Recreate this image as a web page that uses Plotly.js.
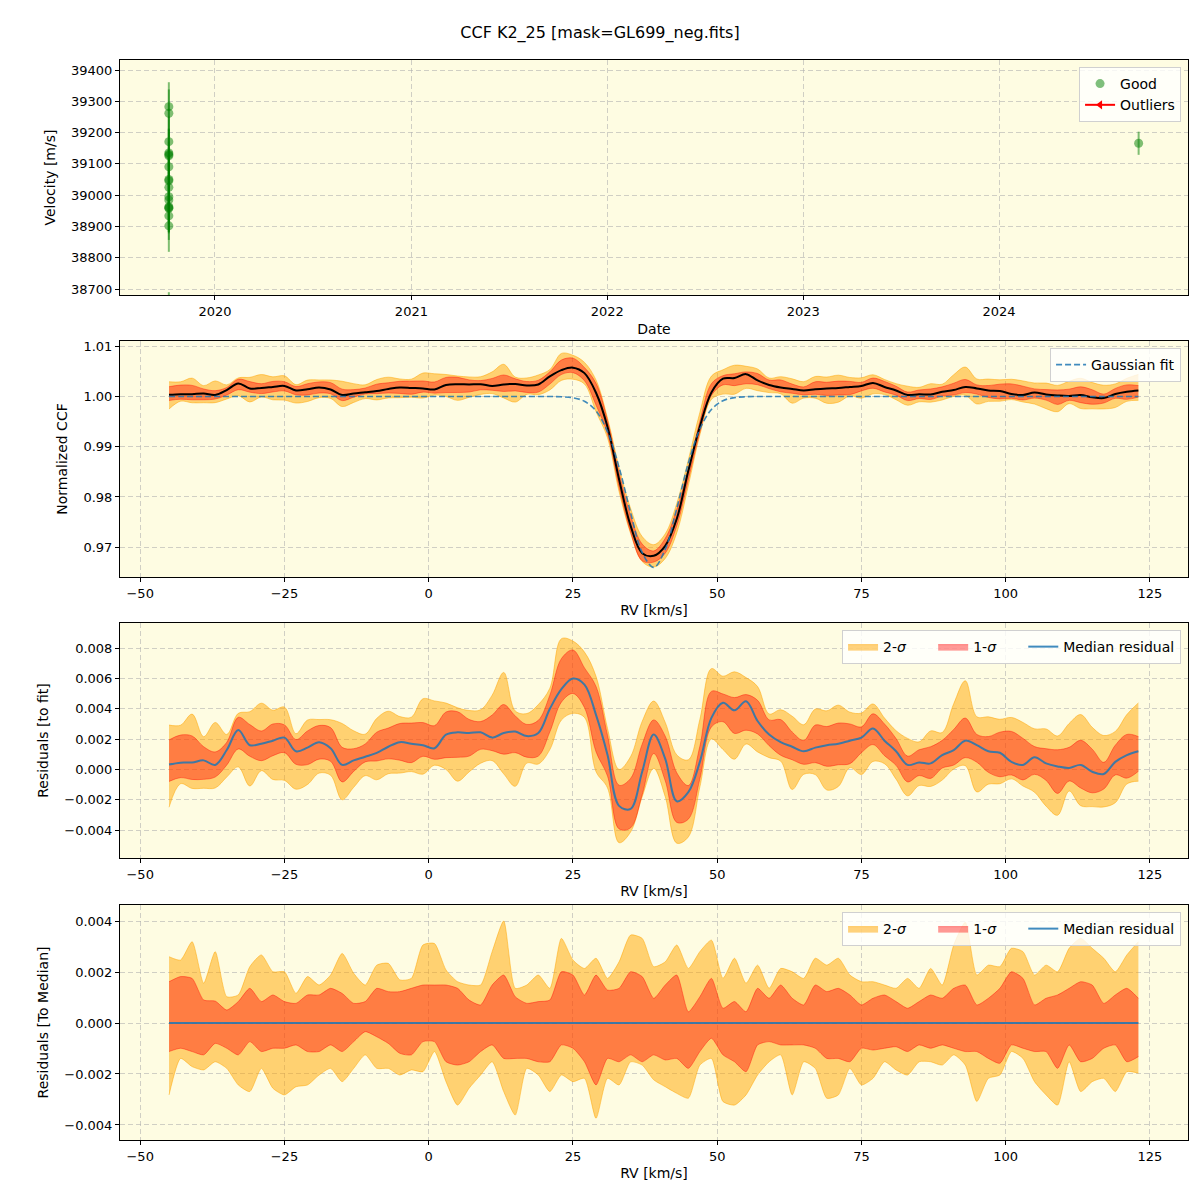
<!DOCTYPE html>
<html>
<head>
<meta charset="utf-8">
<script src="https://cdn.plot.ly/plotly-3.0.1.min.js"></script>
<style>
  body { margin: 0; background: #fff; }
  #chart { width: 1200px; height: 1200px; }
</style>
</head>
<body>
<div id="chart"></div>
<script>
// --- velocity time series (top panel) ---
var obsDates = ['2019-10-07', '2019-10-07', '2019-10-07', '2019-10-07', '2019-10-07', '2019-10-07',
                '2019-10-07', '2019-10-07', '2019-10-07', '2019-10-07', '2019-10-07', '2019-10-07',
                '2019-10-07', '2019-10-07', '2019-10-07', '2019-10-07', '2019-10-07', '2019-10-07',
                '2024-09-17'];
var obsVel = [39283, 39262, 39171, 39135, 39130, 39126, 39091, 39050, 39046, 39025, 38995, 38985,
              38963, 38960, 38958, 38934, 38902, 38600, 39166];
var obsErr = [78, 76, 80, 78, 80, 78, 80, 78, 80, 78, 80, 78, 80, 78, 80, 77, 83, 90, 37];

// --- CCF profiles, RV grid in km/s ---
var rv = [-45, -43, -41, -39, -37, -35, -33, -31, -29, -27, -25, -23, -21, -19, -17, -15, -13, -11,
          -9, -7, -5, -3, -1, 1, 3, 5, 7, 9, 11, 13, 15, 17, 19, 21, 23, 25, 27, 29, 31, 33, 35, 37,
          39, 41, 43, 45, 47, 49, 51, 53, 55, 57, 59, 61, 63, 65, 67, 69, 71, 73, 75, 77, 79, 81,
          83, 85, 87, 89, 91, 93, 95, 97, 99, 101, 103, 105, 107, 109, 111, 113, 115, 117, 119, 121, 123];

var gaussFit = [1, 1, 1, 1, 1, 1, 1, 1, 1, 1, 1, 1, 1, 1, 1, 1, 1, 1,
                1, 1, 1, 1, 1, 1, 1, 1, 1, 1, 1, 1, 1, 1, 1, 1,
                0.99994, 0.99974, 0.99905, 0.99714, 0.99297, 0.98589, 0.97685, 0.96897, 0.96600,
                0.96958, 0.97776, 0.98672, 0.99352, 0.99741, 0.99916, 0.99978, 0.99995,
                1, 1, 1, 1, 1, 1, 1, 1, 1, 1, 1, 1, 1, 1, 1, 1, 1,
                1, 1, 1, 1, 1, 1, 1, 1, 1, 1, 1, 1, 1, 1, 1, 1, 1];

// median residual to the gaussian fit
var resMedian = [0.00033, 0.00045, 0.00046, 0.0006, 0.0003, 0.00128, 0.0026, 0.0016, 0.0017, 0.0019,
                 0.0021, 0.0012, 0.00144, 0.0018, 0.0014, 0.0003, 0.0006, 0.00084, 0.0011, 0.0015,
                 0.0018, 0.0017, 0.0016, 0.0014, 0.0023, 0.00245, 0.0024, 0.00245, 0.0021, 0.0024,
                 0.0025, 0.0022, 0.0024, 0.004, 0.0053, 0.006, 0.0056, 0.0036, 0.00095, -0.0024,
                 -0.0026, -0.00015, 0.0023, 0.0007, -0.0021, -0.0015, 0.0005, 0.0034, 0.0044, 0.0039,
                 0.0045, 0.0032, 0.0023, 0.0018, 0.0015, 0.0012, 0.00144, 0.0016, 0.0017, 0.0019,
                 0.0021, 0.0027, 0.0019, 0.0012, 0.0003, 0.00046, 0.0004, 0.00095, 0.00128, 0.0019,
                 0.0016, 0.0012, 0.0011, 0.0005, 0.0003, 0.0008, 0.0004, 0.0002, 0.0001, 0.0003,
                 -0.00015, -0.0003, 0.0005, 0.00095, 0.0012];

// percentile offsets around the median (same for every panel)
var hi2Off = [0.00260, 0.00247, 0.00319, 0.00156, 0.00280, 0.00103, 0.00110, 0.00221, 0.00267, 0.00201,
              0.00201, 0.00116, 0.00182, 0.00149, 0.00188, 0.00273, 0.00195, 0.00149, 0.00227, 0.00234,
              0.00169, 0.00175, 0.00306, 0.00312, 0.00208, 0.00162, 0.00149, 0.00149, 0.00280, 0.00400,
              0.00136, 0.00149, 0.00188, 0.00136, 0.00332, 0.00247, 0.00214, 0.00254, 0.00175, 0.00240,
              0.00345, 0.00332, 0.00221, 0.00240, 0.00306, 0.00214, 0.00280, 0.00325, 0.00175, 0.00254,
              0.00156, 0.00227, 0.00136, 0.00214, 0.00201, 0.00175, 0.00254, 0.00227, 0.00254, 0.00188,
              0.00162, 0.00162, 0.00149, 0.00136, 0.00175, 0.00136, 0.00214, 0.00149, 0.00306, 0.00395,
              0.00188, 0.00227, 0.00221, 0.00293, 0.00280, 0.00188, 0.00227, 0.00201, 0.00293, 0.00332,
              0.00293, 0.00254, 0.00201, 0.00267, 0.00319];
var hi1Off = [0.00162, 0.00182, 0.00175, 0.00090, 0.00086, 0.00051, 0.00084, 0.00136, 0.00084, 0.00110,
              0.00084, 0.00077, 0.00110, 0.00110, 0.00136, 0.00116, 0.00077, 0.00084, 0.00136, 0.00123,
              0.00123, 0.00136, 0.00149, 0.00149, 0.00149, 0.00136, 0.00090, 0.00071, 0.00149, 0.00188,
              0.00103, 0.00077, 0.00084, 0.00090, 0.00201, 0.00188, 0.00110, 0.00188, 0.00129, 0.00136,
              0.00201, 0.00182, 0.00097, 0.00149, 0.00188, 0.00044, 0.00103, 0.00175, 0.00058, 0.00084,
              0.00044, 0.00136, 0.00097, 0.00149, 0.00097, 0.00071, 0.00149, 0.00123, 0.00136, 0.00110,
              0.00071, 0.00097, 0.00110, 0.00084, 0.00058, 0.00084, 0.00110, 0.00097, 0.00136, 0.00149,
              0.00071, 0.00097, 0.00136, 0.00201, 0.00175, 0.00071, 0.00097, 0.00110, 0.00136, 0.00162,
              0.00149, 0.00077, 0.00110, 0.00136, 0.00097];
var lo1Off = [-0.00112, -0.00099, -0.00112, -0.00125, -0.00080, -0.00099, -0.00125, -0.00073, -0.00112, -0.00099,
              -0.00099, -0.00086, -0.00112, -0.00112, -0.00086, -0.00112, -0.00073, -0.00034, -0.00054, -0.00080,
              -0.00119, -0.00125, -0.00073, -0.00073, -0.00152, -0.00165, -0.00152, -0.00112, -0.00086, -0.00139,
              -0.00139, -0.00139, -0.00152, -0.00152, -0.00086, -0.00099, -0.00152, -0.00243, -0.00139, -0.00152,
              -0.00125, -0.00152, -0.00125, -0.00145, -0.00139, -0.00178, -0.00112, -0.00060, -0.00125, -0.00152,
              -0.00191, -0.00086, -0.00073, -0.00086, -0.00086, -0.00086, -0.00099, -0.00139, -0.00139, -0.00152,
              -0.00099, -0.00106, -0.00099, -0.00093, -0.00112, -0.00086, -0.00099, -0.00086, -0.00099, -0.00112,
              -0.00112, -0.00139, -0.00158, -0.00086, -0.00099, -0.00112, -0.00112, -0.00178, -0.00086, -0.00152,
              -0.00139, -0.00099, -0.00086, -0.00152, -0.00132];
var lo2Off = [-0.00282, -0.00139, -0.00171, -0.00184, -0.00152, -0.00178, -0.00243, -0.00269, -0.00178, -0.00256,
              -0.00282, -0.00250, -0.00243, -0.00204, -0.00178, -0.00230, -0.00178, -0.00125, -0.00178, -0.00178,
              -0.00204, -0.00184, -0.00191, -0.00112, -0.00230, -0.00322, -0.00256, -0.00204, -0.00152, -0.00269,
              -0.00361, -0.00178, -0.00204, -0.00269, -0.00204, -0.00230, -0.00217, -0.00374, -0.00217, -0.00243,
              -0.00152, -0.00165, -0.00223, -0.00250, -0.00276, -0.00295, -0.00165, -0.00139, -0.00308, -0.00322,
              -0.00282, -0.00204, -0.00152, -0.00125, -0.00282, -0.00152, -0.00178, -0.00295, -0.00282, -0.00178,
              -0.00243, -0.00217, -0.00152, -0.00184, -0.00204, -0.00152, -0.00152, -0.00165, -0.00125, -0.00165,
              -0.00308, -0.00217, -0.00204, -0.00112, -0.00139, -0.00230, -0.00282, -0.00322, -0.00152, -0.00269,
              -0.00230, -0.00217, -0.00269, -0.00191, -0.00197];

var zeroX = [-45, 123];
var zeroY = [0, 0];

// median CCF = fit + median residual
var ccfMedian = gaussFit.map(function (g, i) { return g + resMedian[i]; });

var c2 = 'rgba(255,165,0,0.5)';
var c1 = 'rgba(255,0,0,0.4)';
var blue = 'rgba(31,119,180,0.85)';
var pad = '\u00a0\u00a0\u00a0\u00a0\u00a0';

function addOff(base, off) {
    return off.map(function (o, i) { return (base ? base[i] : 0) + o; });
}

function bandTraces(xa, ya, base, leg, showLeg, smooth) {
    var ln = function (c) { return { color: c, width: 1, shape: 'spline', smoothing: smooth }; };
    return [
        { x: rv, y: addOff(base, lo2Off), xaxis: xa, yaxis: ya, mode: 'lines', line: ln(c2),
          showlegend: false, hoverinfo: 'skip' },
        { x: rv, y: addOff(base, hi2Off), xaxis: xa, yaxis: ya, mode: 'lines', line: ln(c2),
          fill: 'tonexty', fillcolor: c2, name: '2-<i>σ</i>' + pad, legend: leg, showlegend: showLeg },
        { x: rv, y: addOff(base, lo1Off), xaxis: xa, yaxis: ya, mode: 'lines', line: ln(c1),
          showlegend: false, hoverinfo: 'skip' },
        { x: rv, y: addOff(base, hi1Off), xaxis: xa, yaxis: ya, mode: 'lines', line: ln(c1),
          fill: 'tonexty', fillcolor: c1, name: '1-<i>σ</i>' + pad, legend: leg, showlegend: showLeg }
    ];
}

var data = [];

// top panel
data.push({
    x: obsDates, y: obsVel, xaxis: 'x', yaxis: 'y', type: 'scatter', mode: 'markers', name: 'Good',
    marker: { color: 'green', size: 9, opacity: 0.5 },
    error_y: { type: 'data', array: obsErr, visible: true, color: 'rgba(0,128,0,0.5)', thickness: 2, width: 0 },
    legend: 'legend'
});
data.push({
    x: [null], y: [null], xaxis: 'x', yaxis: 'y', type: 'scatter', mode: 'lines+markers', name: 'Outliers',
    line: { color: 'red', width: 2 }, marker: { color: 'red', symbol: 'triangle-left', size: 8 },
    legend: 'legend'
});

// CCF panel
data = data.concat(bandTraces('x2', 'y2', ccfMedian, 'legend2', false, 1));
data.push({ x: rv, y: ccfMedian, xaxis: 'x2', yaxis: 'y2', mode: 'lines', line: { color: 'black', width: 2, shape: 'spline' },
            showlegend: false, name: 'Median CCF' });
data.push({ x: rv, y: gaussFit, xaxis: 'x2', yaxis: 'y2', mode: 'lines', name: 'Gaussian fit',
            line: { color: blue, width: 1.6, dash: '6px,3px', shape: 'spline' }, legend: 'legend2' });

// residuals to fit
data = data.concat(bandTraces('x3', 'y3', resMedian, 'legend3', true, 1));
data.push({ x: rv, y: resMedian, xaxis: 'x3', yaxis: 'y3', mode: 'lines', name: 'Median residual',
            line: { color: blue, width: 2, shape: 'spline' }, legend: 'legend3' });

// residuals to median
data = data.concat(bandTraces('x4', 'y4', null, 'legend4', true, 0.6));
data.push({ x: zeroX, y: zeroY, xaxis: 'x4', yaxis: 'y4', mode: 'lines', name: 'Median residual',
            line: { color: blue, width: 2 }, legend: 'legend4' });

var font = { family: 'DejaVu Sans, sans-serif', size: 13, color: '#000' };
var gridColor = 'rgba(176,176,176,0.6)';

function axisBase(extra) {
    var a = {
        showline: true, mirror: true, linecolor: '#000', linewidth: 1,
        ticks: 'outside', ticklen: 4, tickcolor: '#000', tickwidth: 1,
        showgrid: true, gridcolor: gridColor, griddash: '5px,3px', gridwidth: 1,
        zeroline: false, tickfont: { size: 13 }
    };
    for (var k in extra) a[k] = extra[k];
    return a;
}

function axTitle(text, standoff) {
    return { text: text, standoff: standoff, font: { size: 14 } };
}

function legendBox(y, horiz) {
    return {
        x: 0.9935, xanchor: 'right', y: y, yanchor: 'top',
        orientation: horiz ? 'h' : 'v', traceorder: 'normal',
        bgcolor: 'rgba(255,255,255,0.8)', bordercolor: '#d0d0d0', borderwidth: 1,
        font: { size: 14 }, tracegroupgap: 2
    };
}

var rvRange = [-53.5, 131.6];

var layout = {
    width: 1200, height: 1200,
    font: font,
    paper_bgcolor: '#fff',
    plot_bgcolor: '#fefce2',
    margin: { l: 120, r: 12, t: 60, b: 60 },
    title: { text: 'CCF K2_25 [mask=GL699_neg.fits]', font: { size: 16 }, x: 0.5, xref: 'container',
             y: 1 - 32 / 1200, yref: 'container', yanchor: 'middle' },
    xaxis: axisBase({ type: 'date', range: ['2019-07-08', '2024-12-18'], dtick: 'M12', tick0: '2020-01-01',
                      tickformat: '%Y', anchor: 'y', title: axTitle('Date', 6) }),
    yaxis: axisBase({ domain: [0.7824, 1.0], range: [38681, 39432], dtick: 100, tickformat: 'd', anchor: 'x',
                      title: axTitle('Velocity [m/s]', 12) }),
    xaxis2: axisBase({ range: rvRange, dtick: 25, anchor: 'y2', title: axTitle('RV [km/s]', 5) }),
    yaxis2: axisBase({ domain: [0.5213, 0.7398], range: [0.96408, 1.01104], dtick: 0.01, tickformat: '.2f',
                       anchor: 'x2', title: axTitle('Normalized CCF', 12) }),
    xaxis3: axisBase({ range: rvRange, dtick: 25, anchor: 'y3', title: axTitle('RV [km/s]', 5) }),
    yaxis3: axisBase({ domain: [0.2611, 0.4787], range: [-0.00584, 0.00966], dtick: 0.002, tickformat: '.3f',
                       anchor: 'x3', title: axTitle('Residuals [to fit]', 12) }),
    xaxis4: axisBase({ range: rvRange, dtick: 25, anchor: 'y4', title: axTitle('RV [km/s]', 5) }),
    yaxis4: axisBase({ domain: [0, 0.2176], range: [-0.00459, 0.00463], dtick: 0.002, tickformat: '.3f',
                       anchor: 'x4', title: axTitle('Residuals [To Median]', 12) }),
    legend: legendBox(0.9935, false),
    legend2: legendBox(0.7333, false),
    legend3: legendBox(0.4722, true),
    legend4: legendBox(0.2111, true)
};

Plotly.newPlot('chart', data, layout, { displayModeBar: false, staticPlot: true });
</script>
</body>
</html>
